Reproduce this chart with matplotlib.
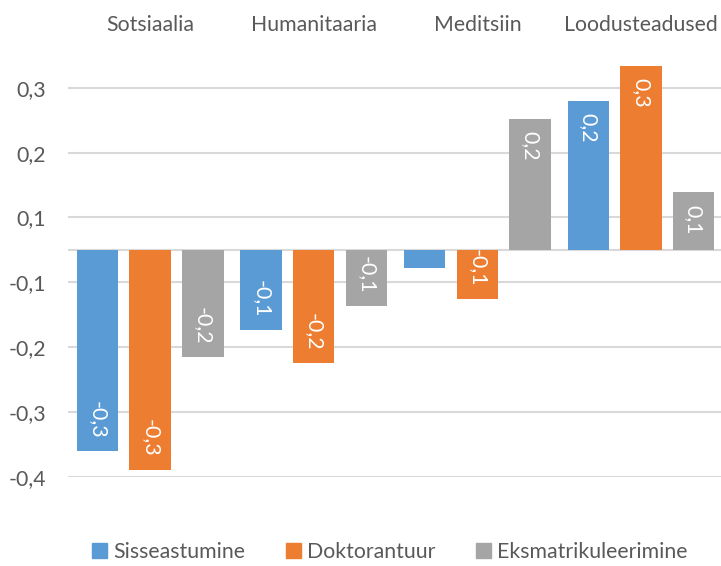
import numpy as np
import matplotlib
matplotlib.use("Agg")
import matplotlib.pyplot as plt

plt.rcParams['font.family'] = ['Lato', 'DejaVu Sans']

categories = ["Sotsiaalia", "Humanitaaria", "Meditsiin", "Loodusteadused"]
series_names = ["Sisseastumine", "Doktorantuur", "Eksmatrikuleerimine"]
sisseastumine = [-0.310, -0.124, -0.028, 0.230]
doktorantuur = [-0.339, -0.174, -0.076, 0.284]
eksmatrikuleerimine = [-0.165, -0.087, 0.202, 0.089]
colors = ["#5B9BD5", "#ED7D31", "#A5A5A5"]

grid_vals = [-0.35, -0.25, -0.15, -0.05, 0.05, 0.15, 0.25]
grid_labels = ["-0,4", "-0,3", "-0,2", "-0,1", "0,1", "0,2", "0,3"]

text_col = "#595959"
grid_col = "#D9D9D9"
fs = 15.3

fig = plt.figure(figsize=(7.21, 5.66), dpi=100)
ax = fig.add_axes([0.0947, 0.1578, 0.9079, 0.7786])

x = np.arange(len(categories))
bw = 0.2535
step = 0.322
all_series = [sisseastumine, doktorantuur, eksmatrikuleerimine]

for i, (vals, col) in enumerate(zip(all_series, colors)):
    xs = x + (i - 1) * step
    ax.bar(xs, vals, width=bw, color=col, zorder=3)
    for xx, v in zip(xs, vals):
        if abs(v) < 0.05:
            continue
        lab = f"{v:.1f}".replace(".", ",")
        if v > 0:
            ax.annotate(lab, (xx, v), xytext=(0, -9), textcoords="offset points",
                        rotation=270, ha="center", va="top", color="white",
                        fontsize=fs, zorder=4)
        else:
            ax.annotate(lab, (xx, v), xytext=(0, 9), textcoords="offset points",
                        rotation=270, ha="center", va="bottom", color="white",
                        fontsize=fs, zorder=4)

for g in grid_vals:
    ax.axhline(g, color=grid_col, lw=1.5, zorder=1)
ax.axhline(0, color=grid_col, lw=1.5, zorder=2)

ax.set_xlim(-0.5, 3.5)
ax.set_ylim(-0.35, 0.33)
ax.set_yticks(grid_vals)
ax.set_yticklabels(grid_labels, color=text_col, fontsize=fs)
ax.tick_params(axis="y", length=0, pad=16)

ax.set_xticks(x)
ax.set_xticklabels(categories, color=text_col, fontsize=fs)
ax.xaxis.tick_top()
ax.tick_params(axis="x", length=0, pad=0.5)

for s in ax.spines.values():
    s.set_visible(False)

handles = [plt.Rectangle((0, 0), 1, 1, color=c) for c in colors]
leg = fig.legend(handles, series_names, loc="center", bbox_to_anchor=(0.541, 1 - 552 / 566),
                 ncol=3, frameon=False, fontsize=fs, handlelength=0.7, handleheight=0.7,
                 handletextpad=0.3, columnspacing=1.9)
for t in leg.get_texts():
    t.set_color(text_col)

fig.savefig("out.png", dpi=100)
